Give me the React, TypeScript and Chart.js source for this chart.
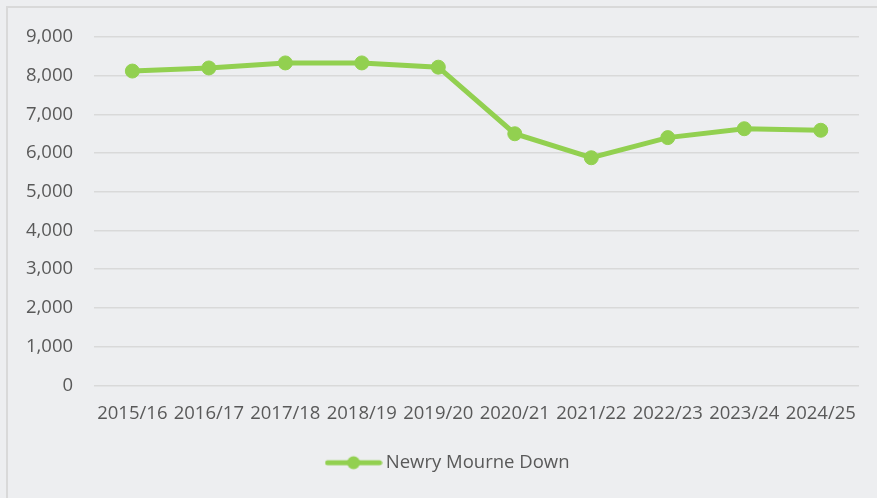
import React, { useEffect, useRef } from 'react';
import { Chart, registerables } from 'chart.js';

Chart.register(...registerables);

const categories = ['2015/16', '2016/17', '2017/18', '2018/19', '2019/20', '2020/21', '2021/22', '2022/23', '2023/24', '2024/25'];
const seriesName = 'Newry Mourne Down';
const seriesValues = [8120, 8200, 8330, 8330, 8220, 6500, 5880, 6400, 6630, 6590];
const yMin = 0;
const yMax = 9000;
const yStep = 1000;

const GREEN = '#92D050';
const TEXT = '#595959';
const FONT = "'Open Sans', sans-serif";
const FS = 18.5;

function makeLegendIcon(): HTMLCanvasElement {
  const c = document.createElement('canvas');
  c.width = 58;
  c.height = 16;
  const ctx = c.getContext('2d')!;
  ctx.strokeStyle = GREEN;
  ctx.lineWidth = 5;
  ctx.lineCap = 'round';
  ctx.beginPath();
  ctx.moveTo(3, 8);
  ctx.lineTo(55, 8);
  ctx.stroke();
  ctx.fillStyle = GREEN;
  ctx.beginPath();
  ctx.arc(29, 8, 6.5, 0, Math.PI * 2);
  ctx.fill();
  return c;
}

const legendShift = {
  id: 'legendShift',
  afterLayout(chart: any) {
    if (chart.legend) {
      chart.legend.left += 18;
      chart.legend.right += 18;
    }
  },
};

export default function App() {
  const canvasRef = useRef<HTMLCanvasElement | null>(null);

  useEffect(() => {
    document.body.style.margin = '0';
    const canvas = canvasRef.current;
    if (!canvas) return;
    const icon = makeLegendIcon();
    const chart = new Chart(canvas, {
      type: 'line',
      data: {
        labels: categories,
        datasets: [
          {
            label: seriesName,
            data: seriesValues,
            borderColor: GREEN,
            backgroundColor: GREEN,
            borderWidth: 5,
            pointStyle: 'circle',
            pointRadius: 7,
            pointBorderWidth: 1,
            pointBackgroundColor: GREEN,
            pointBorderColor: GREEN,
            tension: 0,
          },
        ],
      },
      options: {
        animation: false,
        responsive: false,
        maintainAspectRatio: false,
        layout: { padding: { left: 5, right: 18, top: 37, bottom: 16 } },
        plugins: {
          title: { display: false },
          tooltip: { enabled: false },
          legend: {
            display: true,
            position: 'bottom',
            labels: {
              usePointStyle: true,
              pointStyleWidth: 46,
              padding: 12,
              color: TEXT,
              font: { family: FONT, size: FS },
              generateLabels: () => [
                {
                  text: seriesName,
                  pointStyle: icon,
                  fillStyle: GREEN,
                  strokeStyle: GREEN,
                  lineWidth: 0,
                  hidden: false,
                  datasetIndex: 0,
                  fontColor: TEXT,
                },
              ],
            },
          },
        },
        scales: {
          x: {
            offset: true,
            grid: { display: false, drawTicks: false },
            border: { display: false },
            ticks: {
              color: TEXT,
              font: { family: FONT, size: FS },
              padding: 17,
              autoSkip: false,
              maxRotation: 0,
              minRotation: 0,
            },
          },
          y: {
            min: yMin,
            max: yMax,
            grid: { color: '#D9D9D9', lineWidth: 1.5, drawTicks: false },
            border: { display: false },
            ticks: {
              stepSize: yStep,
              color: TEXT,
              font: { family: FONT, size: FS },
              padding: 21,
              callback: (v: any) => Number(v).toLocaleString('en-US'),
            },
          },
        },
      } as any,
      plugins: [legendShift],
    });
    return () => chart.destroy();
  }, []);

  return (
    <div style={{ position: 'relative', width: 877, height: 498, background: '#EDEEF0', overflow: 'hidden' }}>
      <div
        style={{
          position: 'absolute',
          left: 6,
          top: 6,
          width: 900,
          height: 520,
          border: '2px solid #D9D9D9',
          boxSizing: 'border-box',
        }}
      />
      <canvas ref={canvasRef} width={877} height={498} style={{ position: 'absolute', left: 0, top: 0, display: 'block' }} />
    </div>
  );
}
